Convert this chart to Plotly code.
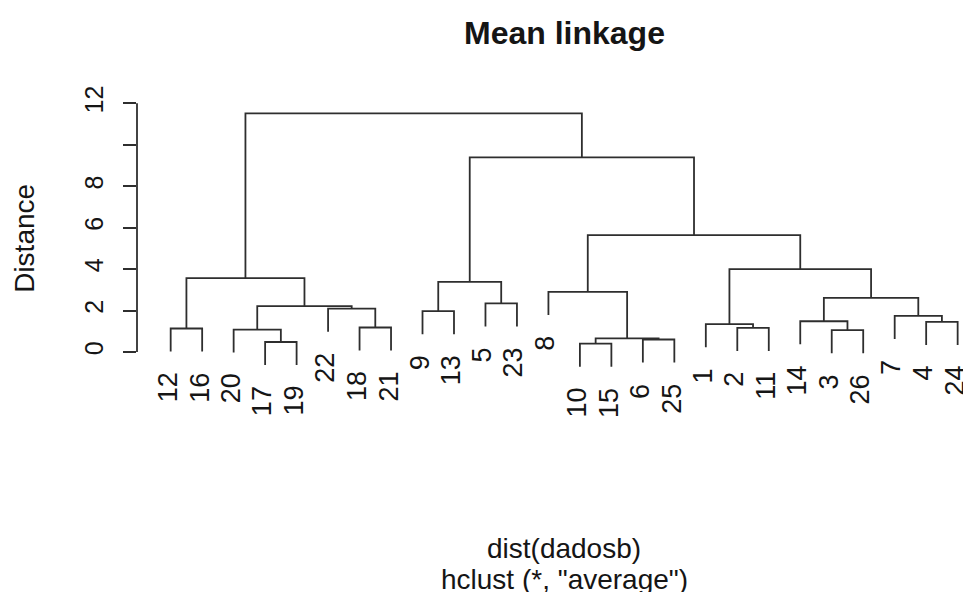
import plotly.graph_objects as go

# ---- data ----
leaf_order = [12, 16, 20, 17, 19, 22, 18, 21, 9, 13, 5, 23, 8,
              10, 15, 6, 25, 1, 2, 11, 14, 3, 26, 7, 4, 24]

# merges in hclust style: negative = observation, positive = earlier merge (1-based)
merge_left = [-17, -10, -6, 2, -20, -12, -18, -22, 5, 6, -9, -5, 11, -8,
              -2, -1, -3, -14, -4, -7, 18, 16, 14, 13, 10]
merge_right = [-19, -15, -25, 3, 1, -16, -21, 7, 8, 9, -13, -23, 12, 4,
               -11, 15, -26, 17, -24, 19, 20, 21, 22, 23, 24]
merge_height = [0.48, 0.40, 0.60, 0.65, 1.08, 1.13, 1.18, 2.09, 2.21, 3.56,
                1.97, 2.34, 3.38, 2.90, 1.16, 1.34, 1.05, 1.48, 1.45, 1.74,
                2.61, 4.00, 5.64, 9.39, 11.52]

y_ticks = [0, 2, 4, 6, 8, 10, 12]
y_tick_text = ["0", "2", "4", "6", "8", "", "12"]

title = "Mean linkage"
y_title = "Distance"
x_title = "dist(dadosb)"
sub_title = 'hclust (*, "average")'

# ---- geometry derived from the data ----
leaf_pos = {obs: i + 1 for i, obs in enumerate(leaf_order)}
hang = 0.1 * (max(merge_height) - min(merge_height))

node_x = {}
xs, ys = [], []
leaf_bottom = {}
for k, (a, b, h) in enumerate(zip(merge_left, merge_right, merge_height), start=1):
    pts = []
    for child in (a, b):
        if child < 0:
            cx = leaf_pos[-child]
            cy = h - hang
            leaf_bottom[-child] = cy
        else:
            cx = node_x[child]
            cy = merge_height[child - 1]
        pts.append((cx, cy))
    node_x[k] = (pts[0][0] + pts[1][0]) / 2
    xs += [pts[0][0], pts[0][0], pts[1][0], pts[1][0], None]
    ys += [pts[0][1], h, h, pts[1][1], None]

LINE = "#2e2e2e"
TXT = "#151515"
FONT = "Liberation Sans, Arial, Helvetica, sans-serif"

fig = go.Figure()
fig.add_trace(go.Scatter(x=xs, y=ys, mode="lines",
                         line=dict(color=LINE, width=1.8),
                         hoverinfo="skip", showlegend=False))

for obs in leaf_order:
    fig.add_annotation(x=leaf_pos[obs], y=leaf_bottom[obs], xref="x", yref="y",
                       text=str(obs), textangle=-90, showarrow=False,
                       xanchor="center", yanchor="top", yshift=-19, xshift=-3,
                       font=dict(family=FONT, size=27, color=TXT))

# axis line from first to last tick
fig.add_shape(type="line", xref="paper", yref="y", x0=0, x1=0,
              y0=min(y_ticks), y1=max(y_ticks),
              line=dict(color=LINE, width=1.8))

center_x = (len(leaf_order) + 1) / 2
fig.add_annotation(x=center_x, y=1.207, xref="x", yref="paper", text="<b>" + title + "</b>",
                   showarrow=False, xanchor="center", yanchor="middle",
                   font=dict(family=FONT, size=32, color=TXT))
fig.add_annotation(x=center_x, y=-0.572, xref="x", yref="paper", text=x_title,
                   showarrow=False, xanchor="center", yanchor="middle",
                   font=dict(family=FONT, size=28, color=TXT))
fig.add_annotation(x=center_x, y=-0.679, xref="x", yref="paper", text=sub_title,
                   showarrow=False, xanchor="center", yanchor="middle",
                   font=dict(family=FONT, size=28, color=TXT))
fig.add_annotation(x=-0.137, y=0.5, xref="paper", yref="paper", text=y_title,
                   textangle=-90, showarrow=False, xanchor="center", yanchor="middle",
                   font=dict(family=FONT, size=28, color=TXT))

fig.update_layout(
    width=963, height=592,
    margin=dict(l=137, r=0, t=93, b=209, pad=0),
    paper_bgcolor="white", plot_bgcolor="white",
    showlegend=False,
    xaxis=dict(range=[-0.07, 26.17], visible=False, fixedrange=True),
    yaxis=dict(range=[-1.5, 12.5], tickvals=y_ticks, ticktext=y_tick_text,
               ticks="outside", ticklen=13, tickwidth=1.8, tickcolor=LINE,
               tickangle=-90, showgrid=False, zeroline=False, showline=False,
               ticklabelstandoff=10,
               tickfont=dict(family=FONT, size=25, color=TXT), fixedrange=True),
)

fig.write_html("out.html", config={"displayModeBar": False},
               post_script="document.body.style.margin='0';")
